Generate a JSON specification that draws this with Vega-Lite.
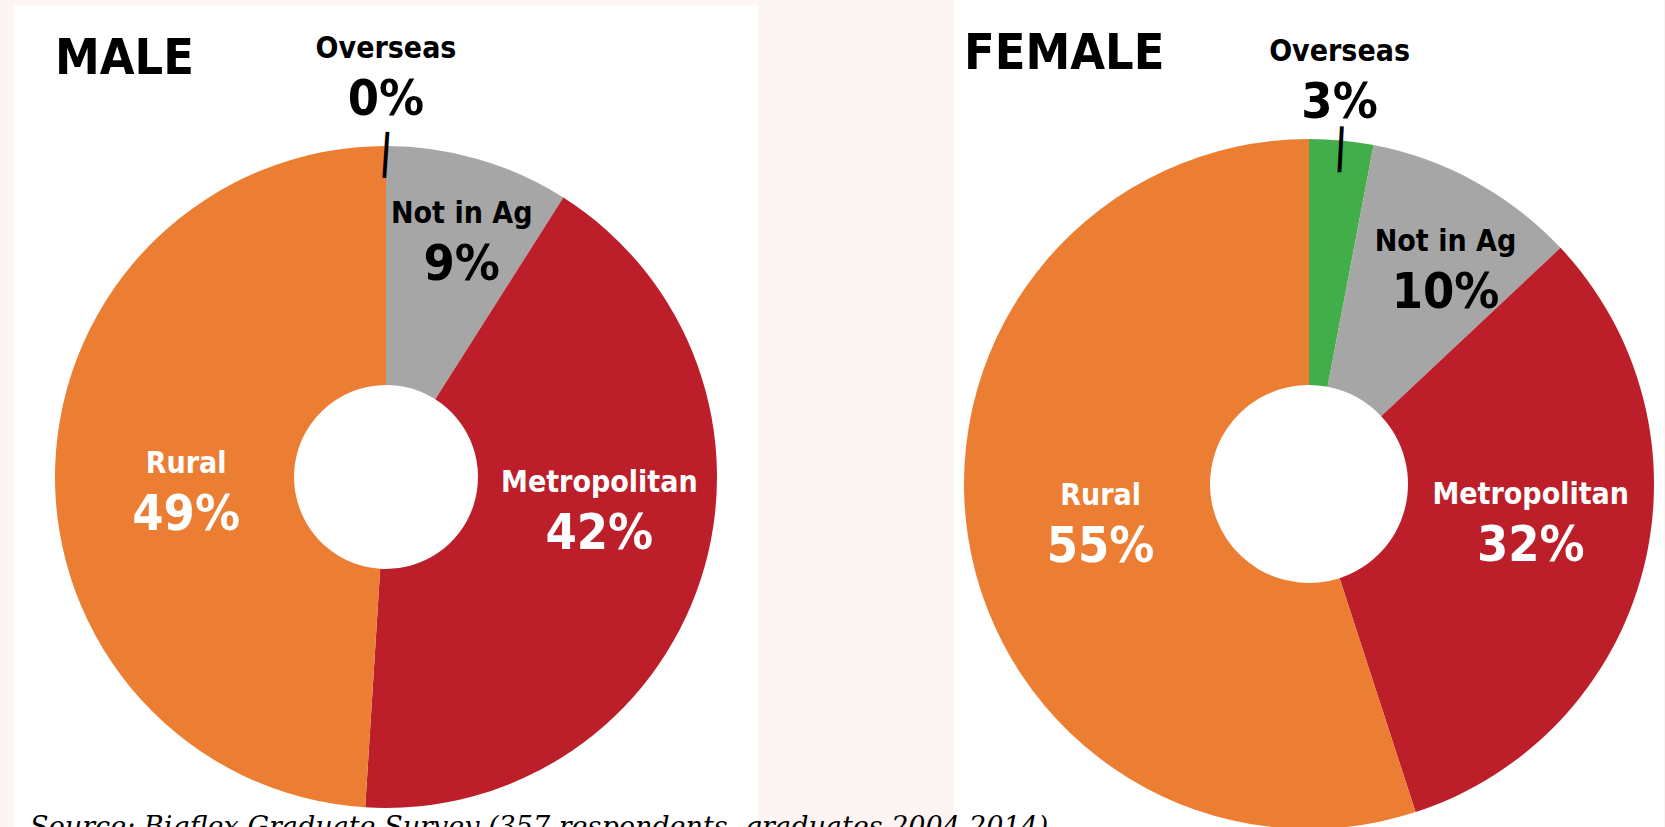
{
  "$schema": "https://vega.github.io/schema/vega-lite/v6.json",
  "width": 1665,
  "height": 827,
  "autosize": "none",
  "padding": 0,
  "background": "#FDF5F3",
  "config": {
    "view": {"stroke": null},
    "text": {"font": "Noto Sans Condensed, Liberation Sans Narrow, DejaVu Sans Condensed, sans-serif", "fontWeight": "bold", "align": "center", "baseline": "alphabetic"}
  },
  "datasets": {
    "d": [
      {"sex": "MALE", "category": "Overseas", "share": 0.0, "rank": 1},
      {"sex": "MALE", "category": "Not in Ag", "share": 0.09, "rank": 2},
      {"sex": "MALE", "category": "Metropolitan", "share": 0.42, "rank": 3},
      {"sex": "MALE", "category": "Rural", "share": 0.49, "rank": 4},
      {"sex": "FEMALE", "category": "Overseas", "share": 0.03, "rank": 1},
      {"sex": "FEMALE", "category": "Not in Ag", "share": 0.10, "rank": 2},
      {"sex": "FEMALE", "category": "Metropolitan", "share": 0.32, "rank": 3},
      {"sex": "FEMALE", "category": "Rural", "share": 0.55, "rank": 4}
    ]
  },
  "data": {"name": "d"},
  "encoding": {
    "x": {"field": "sex", "type": "nominal", "axis": null, "scale": {"type": "point", "domain": ["MALE", "FEMALE"], "range": [386, 1309], "padding": 0}},
    "y": {"field": "sex", "type": "nominal", "axis": null, "scale": {"type": "point", "domain": ["MALE", "FEMALE"], "range": [477, 484], "padding": 0}}
  },
  "layer": [
    {
      "transform": [{"filter": "datum.sex === 'MALE' && datum.rank === 1"}],
      "mark": {"type": "rect", "width": 744, "height": 944, "color": "white"}
    },
    {
      "transform": [{"filter": "datum.sex === 'FEMALE' && datum.rank === 1"}],
      "mark": {"type": "rect", "width": 710, "height": 970, "color": "white"}
    },
    {
      "transform": [{"filter": "datum.sex === 'MALE'"}],
      "encoding": {
        "theta": {"field": "share", "type": "quantitative", "stack": true},
        "order": {"field": "rank", "type": "quantitative"},
        "detail": {"field": "category", "type": "nominal"},
        "color": {"field": "category", "type": "nominal", "legend": null,
          "scale": {"domain": ["Overseas", "Not in Ag", "Metropolitan", "Rural"], "range": ["#41AE49", "#A6A6A6", "#BC1F2A", "#EC7E33"]}}
      },
      "layer": [
        {"mark": {"type": "arc", "outerRadius": 331, "innerRadius": 92}},
        {"mark": {"type": "text", "radius": 324, "font": "DejaVu Sans", "fontWeight": "normal", "fontSize": 46, "angle": 4, "baseline": "middle"},
         "encoding": {"text": {"condition": {"test": "datum.category === 'Overseas'", "value": "|"}, "value": ""}, "color": {"value": "black"}}},
        {"mark": {"type": "text", "radius": 407, "dy": -12, "fontSize": 30},
         "encoding": {"text": {"condition": {"test": "datum.category !== 'Overseas'", "value": ""}, "field": "category", "type": "nominal"}, "color": {"value": "black"}}},
        {"mark": {"type": "text", "radius": 407, "dy": 45, "fontSize": 50},
         "encoding": {"text": {"condition": {"test": "datum.category !== 'Overseas'", "value": ""}, "field": "share", "type": "quantitative", "format": ".0%"}, "color": {"value": "black"}}},
        {"mark": {"type": "text", "radius": 254, "thetaOffset": 0.02, "dy": -12, "fontSize": 30},
         "encoding": {"text": {"condition": {"test": "datum.category !== 'Not in Ag'", "value": ""}, "field": "category", "type": "nominal"}, "color": {"value": "black"}}},
        {"mark": {"type": "text", "radius": 254, "thetaOffset": 0.02, "dy": 45, "fontSize": 50},
         "encoding": {"text": {"condition": {"test": "datum.category !== 'Not in Ag'", "value": ""}, "field": "share", "type": "quantitative", "format": ".0%"}, "color": {"value": "black"}}},
        {"mark": {"type": "text", "radius": 215, "thetaOffset": -0.19, "dy": -12, "fontSize": 30},
         "encoding": {"text": {"condition": {"test": "datum.category !== 'Metropolitan'", "value": ""}, "field": "category", "type": "nominal"}, "color": {"value": "white"}}},
        {"mark": {"type": "text", "radius": 215, "thetaOffset": -0.19, "dy": 45, "fontSize": 50},
         "encoding": {"text": {"condition": {"test": "datum.category !== 'Metropolitan'", "value": ""}, "field": "share", "type": "quantitative", "format": ".0%"}, "color": {"value": "white"}}},
        {"mark": {"type": "text", "radius": 200, "thetaOffset": -0.07, "dy": -12, "fontSize": 30},
         "encoding": {"text": {"condition": {"test": "datum.category !== 'Rural'", "value": ""}, "field": "category", "type": "nominal"}, "color": {"value": "white"}}},
        {"mark": {"type": "text", "radius": 200, "thetaOffset": -0.07, "dy": 45, "fontSize": 50},
         "encoding": {"text": {"condition": {"test": "datum.category !== 'Rural'", "value": ""}, "field": "share", "type": "quantitative", "format": ".0%"}, "color": {"value": "white"}}}
      ]
    },
    {
      "transform": [{"filter": "datum.sex === 'FEMALE'"}],
      "encoding": {
        "theta": {"field": "share", "type": "quantitative", "stack": true},
        "order": {"field": "rank", "type": "quantitative"},
        "detail": {"field": "category", "type": "nominal"},
        "color": {"field": "category", "type": "nominal", "legend": null,
          "scale": {"domain": ["Overseas", "Not in Ag", "Metropolitan", "Rural"], "range": ["#41AE49", "#A6A6A6", "#BC1F2A", "#EC7E33"]}}
      },
      "layer": [
        {"mark": {"type": "arc", "outerRadius": 345, "innerRadius": 99}},
        {"mark": {"type": "text", "radius": 338, "font": "DejaVu Sans", "fontWeight": "normal", "fontSize": 46, "angle": 3, "baseline": "middle"},
         "encoding": {"text": {"condition": {"test": "datum.category === 'Overseas'", "value": "|"}, "value": ""}, "color": {"value": "black"}}},
        {"mark": {"type": "text", "radius": 412, "thetaOffset": -0.02, "dy": -12, "fontSize": 30},
         "encoding": {"text": {"condition": {"test": "datum.category !== 'Overseas'", "value": ""}, "field": "category", "type": "nominal"}, "color": {"value": "black"}}},
        {"mark": {"type": "text", "radius": 412, "thetaOffset": -0.02, "dy": 45, "fontSize": 50},
         "encoding": {"text": {"condition": {"test": "datum.category !== 'Overseas'", "value": ""}, "field": "share", "type": "quantitative", "format": ".0%"}, "color": {"value": "black"}}},
        {"mark": {"type": "text", "radius": 260, "thetaOffset": 0.05, "dy": -12, "fontSize": 30},
         "encoding": {"text": {"condition": {"test": "datum.category !== 'Not in Ag'", "value": ""}, "field": "category", "type": "nominal"}, "color": {"value": "black"}}},
        {"mark": {"type": "text", "radius": 260, "thetaOffset": 0.05, "dy": 45, "fontSize": 50},
         "encoding": {"text": {"condition": {"test": "datum.category !== 'Not in Ag'", "value": ""}, "field": "share", "type": "quantitative", "format": ".0%"}, "color": {"value": "black"}}},
        {"mark": {"type": "text", "radius": 224, "thetaOffset": -0.108, "dy": -12, "fontSize": 30},
         "encoding": {"text": {"condition": {"test": "datum.category !== 'Metropolitan'", "value": ""}, "field": "category", "type": "nominal"}, "color": {"value": "white"}}},
        {"mark": {"type": "text", "radius": 224, "thetaOffset": -0.108, "dy": 45, "fontSize": 50},
         "encoding": {"text": {"condition": {"test": "datum.category !== 'Metropolitan'", "value": ""}, "field": "share", "type": "quantitative", "format": ".0%"}, "color": {"value": "white"}}},
        {"mark": {"type": "text", "radius": 211, "dy": -12, "fontSize": 30},
         "encoding": {"text": {"condition": {"test": "datum.category !== 'Rural'", "value": ""}, "field": "category", "type": "nominal"}, "color": {"value": "white"}}},
        {"mark": {"type": "text", "radius": 211, "dy": 45, "fontSize": 50},
         "encoding": {"text": {"condition": {"test": "datum.category !== 'Rural'", "value": ""}, "field": "share", "type": "quantitative", "format": ".0%"}, "color": {"value": "white"}}}
      ]
    },
    {
      "transform": [{"filter": "datum.sex === 'MALE' && datum.rank === 1"}],
      "mark": {"type": "text", "align": "left", "dx": -331, "dy": -403, "fontSize": 50, "color": "black"},
      "encoding": {"text": {"field": "sex", "type": "nominal"}}
    },
    {
      "transform": [{"filter": "datum.sex === 'FEMALE' && datum.rank === 1"}],
      "mark": {"type": "text", "align": "left", "dx": -345, "dy": -415, "fontSize": 50, "color": "black"},
      "encoding": {"text": {"field": "sex", "type": "nominal"}}
    },
    {
      "transform": [{"filter": "datum.sex === 'MALE' && datum.rank === 1"}],
      "mark": {"type": "text", "align": "left", "dx": -356, "dy": 359, "fontSize": 27, "font": "DejaVu Serif", "fontStyle": "italic", "fontWeight": "normal", "color": "black"},
      "encoding": {"text": {"value": "Source: Bigflex Graduate Survey (357 respondents, graduates 2004-2014)"}}
    }
  ]
}
